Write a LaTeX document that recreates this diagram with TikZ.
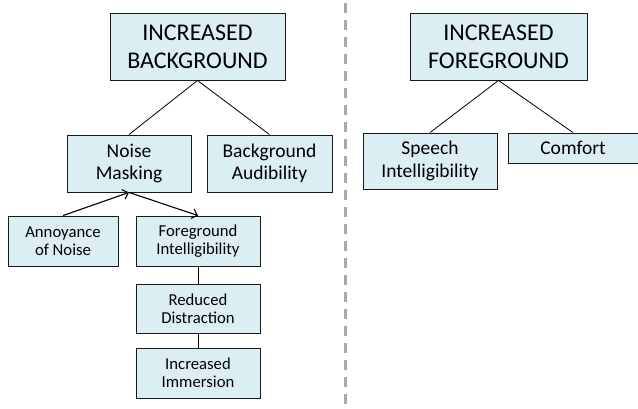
\documentclass[tikz,border=0pt]{standalone}
\usepackage{fontspec}
\setmainfont{Carlito}
\usetikzlibrary{arrows.meta}
\definecolor{boxfill}{HTML}{DBEEF4}
\definecolor{boxline}{HTML}{1A1A1A}
\definecolor{dashgray}{HTML}{AAAAAA}
\begin{document}
\begin{tikzpicture}[x=1pt,y=-1pt,
  box/.style={draw=boxline,fill=boxfill,line width=0.9pt,align=center,inner sep=0pt,text=black},
  bigtext/.style={font=\fontsize{24}{28}\selectfont},
  midtext/.style={font=\fontsize{19.5}{22.5}\selectfont},
  smalltext/.style={font=\fontsize{16.7}{18}\selectfont},
  link/.style={draw=black,line width=0.8pt},
  arr/.style={draw=black,line width=1.1pt,-{Straight Barb[length=5pt,width=10pt,line width=1.1pt]}}]
\useasboundingbox (0,0) rectangle (638,408);
\clip (0,0) rectangle (638,408);
\draw[dashgray,line width=2.6pt,dash pattern=on 10pt off 7pt] (345.5,3) -- (345.5,408);

\node[box,bigtext,minimum width=175pt,minimum height=67pt] (IB) at (197.5,46.5) {INCREASED\\BACKGROUND};
\node[box,bigtext,minimum width=177pt,minimum height=67pt] (IF) at (498.5,46.5) {INCREASED\\FOREGROUND};
\node[box,midtext,minimum width=124pt,minimum height=57pt] (NM) at (129,163.5) {Noise\\Masking};
\node[box,midtext,minimum width=125pt,minimum height=57pt] (BA) at (269.5,163.5) {Background\\Audibility};
\node[box,smalltext,minimum width=110pt,minimum height=50pt] (AN) at (63,241) {Annoyance\\of Noise};
\node[box,smalltext,minimum width=124pt,minimum height=50pt] (FI) at (198,241) {Foreground\\Intelligibility};
\node[box,smalltext,minimum width=124pt,minimum height=49pt] (RD) at (198,308.5) {Reduced\\Distraction};
\node[box,smalltext,minimum width=124pt,minimum height=50pt] (II) at (198,373) {Increased\\Immersion};
\node[box,midtext,minimum width=134pt,minimum height=56pt] (SI) at (430,161) {Speech\\Intelligibility};
\node[box,midtext,minimum width=130pt,minimum height=30pt] (CO) at (573,148) {Comfort};

\draw[link] (IB.south) -- (NM.north);
\draw[link] (IB.south) -- (BA.north);
\draw[link] (IF.south) -- (SI.north);
\draw[link] (IF.south) -- (CO.north);
\draw[arr] (AN.north) -- (NM.south);
\draw[arr] (NM.south) -- (FI.north);
\draw[link] (FI.south) -- (RD.north);
\draw[link] (RD.south) -- (II.north);
\end{tikzpicture}
\end{document}
